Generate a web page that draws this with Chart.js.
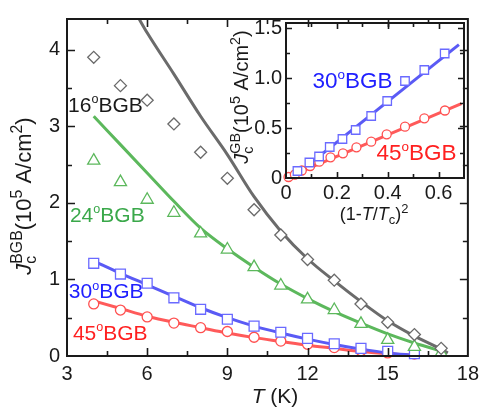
<!DOCTYPE html>
<html>
<head>
<meta charset="utf-8">
<script src="https://cdn.jsdelivr.net/npm/chart.js@4.4.0/dist/chart.umd.min.js"></script>
<style>
  html, body { margin: 0; padding: 0; background: #fff; }
  #wrap { position: relative; width: 485px; height: 408px; }
  #main { position: absolute; left: 0; top: 0; }
  #inset { position: absolute; left: 220px; top: 0; }
</style>
</head>
<body>
<div id="wrap">
  <canvas id="main" width="485" height="408"></canvas>
  <canvas id="inset" width="265" height="230"></canvas>
</div>
<script>
/* Jc(BGB) vs T, with inset Jc vs (1-T/Tc)^2 */

// main panel data
const tempsA = [4, 5, 6, 7, 8, 9, 10, 11, 12, 13, 14, 15, 16, 17];
const tempsB = [4, 5, 6, 7, 8, 9, 10, 11, 12, 13, 14, 15, 16];
const jc16 = [3.90, 3.53, 3.34, 3.03, 2.66, 2.32, 1.91, 1.58, 1.26, 0.99, 0.68, 0.44, 0.28, 0.10];
const jc24 = [2.55, 2.27, 2.04, 1.87, 1.60, 1.39, 1.16, 0.92, 0.74, 0.60, 0.42, 0.21, 0.12, 0.04];
const jc30 = [1.21, 1.07, 0.95, 0.76, 0.61, 0.48, 0.39, 0.31, 0.23, 0.16, 0.10, 0.06, 0.03];
const jc45 = [0.68, 0.60, 0.51, 0.43, 0.37, 0.32, 0.245, 0.195, 0.153, 0.11, 0.068, 0.04, 0.025];

// fitted curves
const fitT16 = [5.7, 6, 7, 8, 9, 10, 11, 12, 13, 14, 15, 16, 17, 17.25];
const fit16 = [4.40, 4.22, 3.68, 3.13, 2.63, 2.08, 1.63, 1.27, 0.98, 0.71, 0.46, 0.26, 0.09, 0.04];
const fitT24 = [4, 5, 6, 7, 8, 9, 10, 11, 12, 13, 14, 15, 16, 17, 17.2];
const fit24 = [3.13, 2.76, 2.39, 2.02, 1.67, 1.40, 1.16, 0.94, 0.75, 0.58, 0.43, 0.29, 0.17, 0.06, 0.03];
const fitT30 = [4, 5, 6, 7, 8, 9, 10, 11, 12, 13, 14, 15, 16];
const fit30 = [1.24, 1.08, 0.93, 0.78, 0.63, 0.50, 0.39, 0.30, 0.22, 0.15, 0.09, 0.04, 0.01];
const fitT45 = [4, 5, 6, 7, 8, 9, 10, 11, 12, 13, 14, 15, 16];
const fit45 = [0.72, 0.62, 0.52, 0.44, 0.37, 0.30, 0.24, 0.19, 0.14, 0.10, 0.06, 0.03, 0.01];

// inset data
const inBlueX = [0.045, 0.092, 0.13, 0.172, 0.222, 0.274, 0.335, 0.398, 0.468, 0.544, 0.624];
const inBlueY = [0.07, 0.155, 0.215, 0.31, 0.39, 0.48, 0.62, 0.77, 0.97, 1.08, 1.245];
const inRedX = [0.01, 0.035, 0.062, 0.095, 0.131, 0.175, 0.224, 0.277, 0.335, 0.396, 0.468, 0.544, 0.625];
const inRedY = [0.01, 0.035, 0.075, 0.12, 0.163, 0.207, 0.247, 0.307, 0.363, 0.437, 0.513, 0.597, 0.675];
const inBlueLineX = [0.024, 0.68];
const inBlueLineY = [0, 1.333];
const inRedLineX = [0.0, 0.69];
const inRedLineY = [0, 0.743];

// ticks
const xTicksMain = [3, 6, 9, 12, 15, 18];
const yTicksMain = [0, 1, 2, 3, 4];
const xTicksInset = [0, 0.2, 0.4, 0.6];
const yTicksInset = [0, 0.5, 1.0, 1.5];

const FONT = '"Liberation Sans", Arial, sans-serif';
const INK = '#1a1a1a';
const C16 = '#6b6b6b', C24 = '#5cb85c', C30 = '#5a5af5', C45 = '#ff5a5a';

function pts(xs, ys) {
  return xs.map((v, i) => ({ x: v, y: ys[i] }));
}

function fontStr(size, italic) {
  return (italic ? 'italic ' : '') + size + 'px ' + FONT;
}

function partWidth(ctx, p, base) {
  const s = base * (p.scale || 0.72);
  if (p.stack) {
    ctx.font = fontStr(s);
    return Math.max(ctx.measureText(p.lo).width, ctx.measureText(p.hi).width);
  }
  ctx.font = fontStr(p.sup || p.sub ? s : base, p.it);
  return ctx.measureText(p.t).width;
}

// draws text with sub/superscripts, y = vertical middle
function drawRich(ctx, parts, x, y, base, color, align) {
  ctx.save();
  ctx.fillStyle = color;
  ctx.textBaseline = 'alphabetic';
  ctx.textAlign = 'left';
  const widths = parts.map(p => partWidth(ctx, p, base));
  const total = widths.reduce((a, b) => a + b, 0);
  let cx = align === 'center' ? x - total / 2 : x;
  const by = y + base * 0.36;
  parts.forEach((p, i) => {
    const s = base * (p.scale || 0.72);
    if (p.stack) {
      ctx.font = fontStr(s);
      ctx.fillText(p.lo, cx, by + base * 0.22);
      ctx.fillText(p.hi, cx, by - base * 0.42);
    } else {
      ctx.font = fontStr(p.sup || p.sub ? s : base, p.it);
      const dy = p.sup ? -base * 0.42 : p.sub ? base * 0.22 : 0;
      ctx.fillText(p.t, cx, by + dy);
    }
    cx += widths[i];
  });
  ctx.restore();
}

function bgbLabel(num) {
  return [{ t: num }, { t: 'o', sup: true, scale: 0.6 }, { t: 'BGB' }];
}

// frame with inward ticks on all four sides
const framePlugin = {
  id: 'frame',
  afterDatasetsDraw(chart, args, o) {
    const { ctx, chartArea: a, scales: { x, y } } = chart;
    ctx.save();
    ctx.strokeStyle = INK;
    ctx.lineWidth = 1.6;
    const mids = (arr, max) => {
      const step = arr[1] - arr[0];
      const out = [];
      for (const v of arr) {
        const m = v + step / 2;
        if (m < max) out.push(m);
      }
      return out;
    };
    ctx.beginPath();
    const xs = x.ticks.map(t => t.value);
    const ys = y.ticks.map(t => t.value);
    const vx = xs.map(v => [v, o.major]).concat(mids(xs, x.max).map(v => [v, o.minor]));
    const vy = ys.map(v => [v, o.major]).concat(mids(ys, y.max).map(v => [v, o.minor]));
    vx.forEach(([v, len]) => {
      const px = Math.round(x.getPixelForValue(v)) + 0.5;
      if (px <= a.left + 1 || px >= a.right - 1) return;
      ctx.moveTo(px, a.bottom); ctx.lineTo(px, a.bottom - len);
      ctx.moveTo(px, a.top); ctx.lineTo(px, a.top + len);
    });
    vy.forEach(([v, len]) => {
      const py = Math.round(y.getPixelForValue(v)) + 0.5;
      if (py <= a.top + 1 || py >= a.bottom - 1) return;
      ctx.moveTo(a.left, py); ctx.lineTo(a.left + len, py);
      ctx.moveTo(a.right, py); ctx.lineTo(a.right - len, py);
    });
    ctx.stroke();
    ctx.lineWidth = 2;
    ctx.strokeRect(a.left, a.top, a.right - a.left, a.bottom - a.top);
    ctx.restore();
  }
};

// axis titles and curve labels
const textPlugin = {
  id: 'texts',
  afterDraw(chart, args, o) {
    const { ctx, scales: { x, y } } = chart;
    (o.labels || []).forEach(l => {
      drawRich(ctx, bgbLabel(l.text), x.getPixelForValue(l.x), y.getPixelForValue(l.y), l.size, l.color, 'left');
    });
    const xt = o.xTitle;
    drawRich(ctx, xt.parts, xt.cx, xt.cy, xt.size, INK, 'center');
    const yt = o.yTitle;
    ctx.save();
    ctx.translate(yt.cx, yt.cy);
    ctx.rotate(-Math.PI / 2);
    drawRich(ctx, yt.parts, 0, 0, yt.size, INK, 'center');
    ctx.restore();
  }
};

function lineSet(xs, ys, color) {
  return {
    data: pts(xs, ys), showLine: true, pointRadius: 0, borderColor: color,
    borderWidth: 3, cubicInterpolationMode: 'monotone', order: 1
  };
}

function markSet(xs, ys, color, style, r) {
  return {
    data: pts(xs, ys), showLine: false, pointStyle: style, pointRadius: r,
    pointBorderColor: color, pointBackgroundColor: '#fff', pointBorderWidth: 1.3,
    order: 0, clip: false
  };
}

function axis(min, max, ticks, size, pad, fmt, fit) {
  return {
    type: 'linear', min: min, max: max,
    afterBuildTicks: s => { s.ticks = ticks.map(v => ({ value: v })); },
    afterFit: fit,
    grid: { display: false, drawTicks: false },
    border: { display: false },
    ticks: {
      font: { family: FONT, size: size }, color: INK, padding: pad,
      maxRotation: 0, autoSkip: false, callback: fmt
    }
  };
}

// main chart
new Chart(document.getElementById('main'), {
  type: 'scatter',
  data: {
    datasets: [
      markSet(tempsA, jc16, '#6a6a6a', 'rectRot', 6),
      markSet(tempsA, jc24, '#5cb85c', 'triangle', 7),
      markSet(tempsB, jc30, '#6a6aff', 'rect', 7),
      markSet(tempsB, jc45, '#ff5050', 'circle', 5),
      lineSet(fitT16, fit16, C16),
      lineSet(fitT24, fit24, C24),
      lineSet(fitT30, fit30, C30),
      lineSet(fitT45, fit45, C45)
    ]
  },
  options: {
    responsive: false,
    animation: false,
    events: [],
    layout: { autoPadding: false, padding: { left: 0, right: 7, top: 11, bottom: 0 } },
    scales: {
      x: axis(3, 18, xTicksMain, 20, 6, v => String(v), s => { s.height = 52; }),
      y: axis(0, 4.4, yTicksMain, 20, 7, v => String(v), s => { s.width = 67; })
    },
    plugins: {
      legend: { display: false },
      tooltip: { enabled: false },
      frame: { major: 8, minor: 5 },
      texts: {
        labels: [
          { text: '16', x: 3.04, y: 3.29, size: 21, color: '#1a1a1a' },
          { text: '24', x: 3.11, y: 1.85, size: 21, color: '#3aa84a' },
          { text: '30', x: 3.07, y: 0.85, size: 21, color: '#2020ff' },
          { text: '45', x: 3.22, y: 0.31, size: 21, color: '#ff2020' }
        ],
        xTitle: { parts: [{ t: 'T', it: true }, { t: ' (K)' }], cx: 275, cy: 395, size: 21 },
        yTitle: {
          parts: [{ t: 'J', it: true }, { stack: true, lo: 'c', hi: 'BGB' }, { t: '(10' },
                  { t: '5', sup: true }, { t: ' A/cm' }, { t: '2', sup: true }, { t: ')' }],
          cx: 23, cy: 196, size: 22
        }
      }
    }
  },
  plugins: [framePlugin, textPlugin]
});

// inset chart
new Chart(document.getElementById('inset'), {
  type: 'scatter',
  data: {
    datasets: [
      markSet(inBlueX, inBlueY, '#6a6aff', 'rect', 6),
      markSet(inRedX, inRedY, '#ff5050', 'circle', 4.5),
      lineSet(inBlueLineX, inBlueLineY, C30),
      lineSet(inRedLineX, inRedLineY, C45)
    ]
  },
  options: {
    responsive: false,
    animation: false,
    events: [],
    layout: { autoPadding: false, padding: { left: 0, right: 21, top: 23, bottom: 0 } },
    scales: {
      x: axis(0, 0.7, xTicksInset, 20, 3, v => (v === 0 ? '0' : v.toFixed(1)), s => { s.height = 52; }),
      y: axis(0, 1.55, yTicksInset, 20, 4, v => (v === 0 ? '0' : v.toFixed(1)), s => { s.width = 66; })
    },
    plugins: {
      legend: { display: false },
      tooltip: { enabled: false },
      frame: { major: 6, minor: 4 },
      texts: {
        labels: [
          { text: '30', x: 0.104, y: 0.98, size: 22.5, color: '#2020ff' },
          { text: '45', x: 0.356, y: 0.26, size: 22.5, color: '#ff2020' }
        ],
        xTitle: {
          parts: [{ t: '(1-' }, { t: 'T', it: true }, { t: '/' }, { t: 'T', it: true },
                  { t: 'c', sub: true }, { t: ')' }, { t: '2', sup: true }],
          cx: 154, cy: 214, size: 18
        },
        yTitle: {
          parts: [{ t: 'J', it: true }, { stack: true, lo: 'c', hi: 'GB' }, { t: '(10' },
                  { t: '5', sup: true }, { t: ' A/cm' }, { t: '2', sup: true }, { t: ')' }],
          cx: 21, cy: 97, size: 20
        }
      }
    }
  },
  plugins: [framePlugin, textPlugin]
});
</script>
</body>
</html>
